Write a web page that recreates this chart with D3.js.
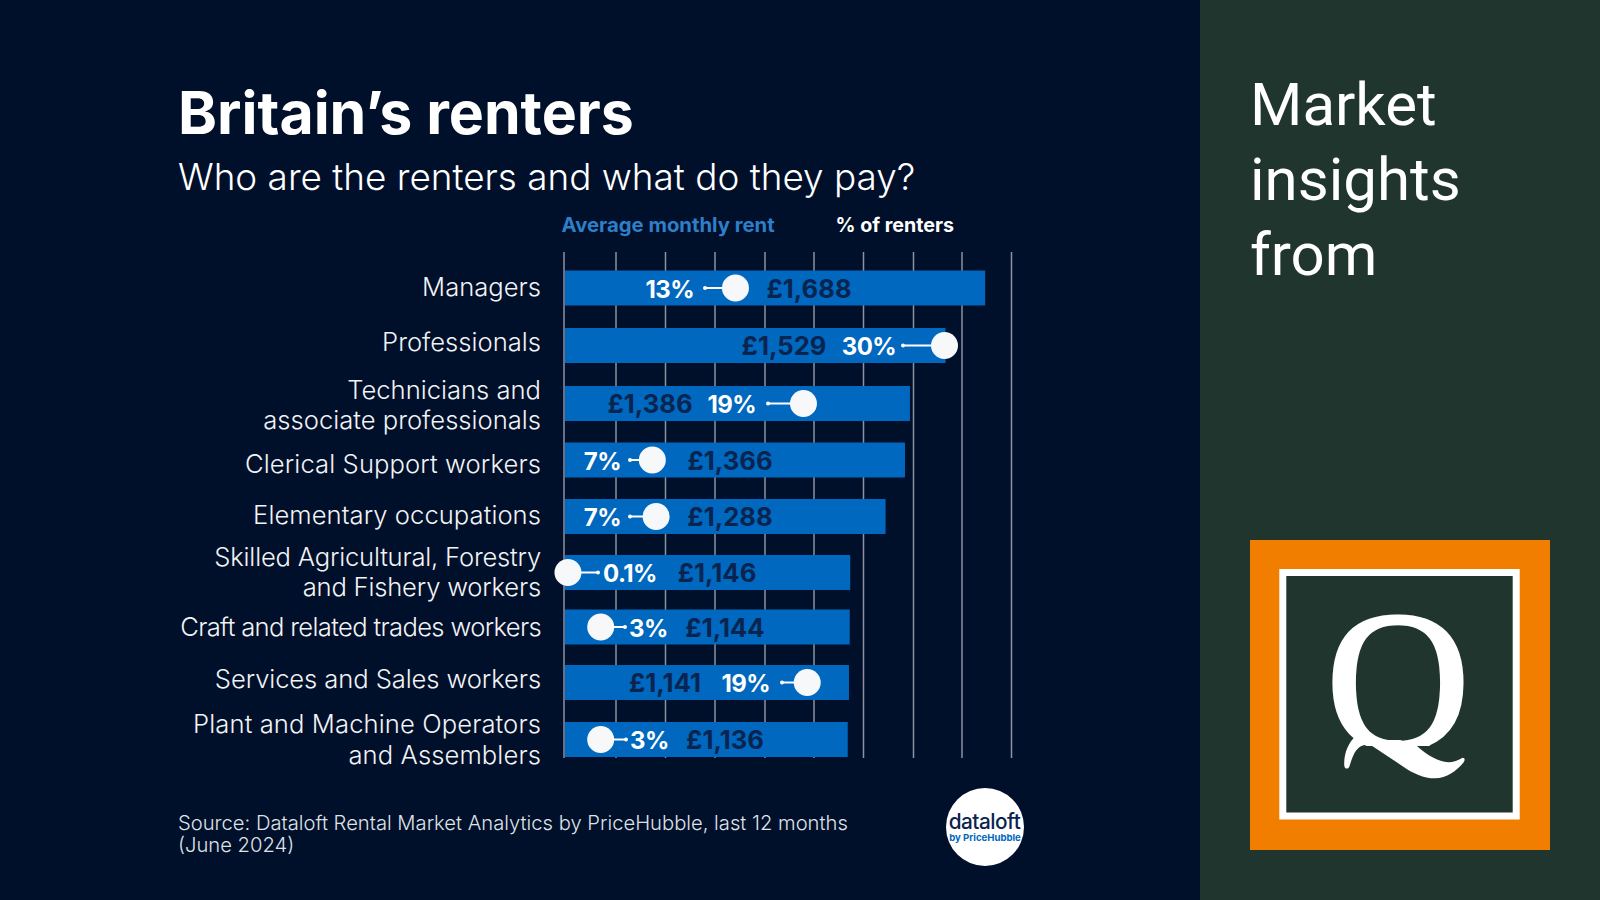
<!DOCTYPE html>
<html>
<head>
<meta charset="utf-8">
<script src="https://cdn.jsdelivr.net/npm/d3@7"></script>
<style>
  html, body { margin: 0; padding: 0; background: #000f2a; }
  svg { display: block; }
  text { font-family: Inter, sans-serif; }
</style>
</head>
<body>
<svg id="chart" width="1600" height="900"></svg>
<script>
// chart data
const categories = ['Managers', 'Professionals', 'Technicians and|associate professionals', 'Clerical Support workers',
  'Elementary occupations', 'Skilled Agricultural, Forestry|and Fishery workers', 'Craft and related trades workers',
  'Services and Sales workers', 'Plant and Machine Operators|and Assemblers'];
const rents = [1688, 1529, 1386, 1366, 1288, 1146, 1144, 1141, 1136];
const renterShare = [13.4, 30, 18.8, 6.8, 7.1, 0.1, 2.7, 19.1, 2.7];
const gridTicks = d3.range(0, 2000, 200);
const sourceLines = ['Source: Dataloft Rental Market Analytics by PriceHubble, last 12 months', '(June 2024)'];

// the rows and annotations were placed by hand in the original, so they are kept by hand here
const gridLines = [564, 616, 665.5, 715, 765, 814, 863.5, 913.5, 962, 1011.5];
const rowCentres = [288, 345.5, 403.5, 460, 516.5, 572.5, 627, 682.5, 739.5];
const labelBaselines = [295.5, 351, 398.5, 472.5, 523.5, 565.5, 636, 687.5, 733];
const labelTracking = [0, 0, 0, 0.1, 0.05, -0.2, -0.66, -0.1, 0.1];
const rentLabelCentres = [809, 784, 650, 730, 730, 717, 725, 665, 725];
const shareLabelEdges = [694, 896, 756, 621, 621, 603, 629, 770, 630];
const stemEnds = [705, 903, 768, 630, 630, 598, 625, 782, 626];

const x = d3.scaleLinear().domain([0, 1800]).range([565, 1013]);
const xGrid = d3.scaleLinear().domain(gridTicks).range(gridLines);
const xShare = d3.scaleLinear().domain([0, 30]).range([566.7, 944.5]);
const y = d3.scaleOrdinal().domain(categories).range(rowCentres);
const yLabel = d3.scaleOrdinal().domain(categories).range(labelBaselines);
const barHeight = 35;

const shareText = v => v < 1 ? d3.format('.1f')(v) + '%' : d3.format('.0f')(v) + '%';
const rows = categories.map((c, i) => ({
  cat: c, rent: rents[i], share: renterShare[i], tracking: labelTracking[i],
  rentX: rentLabelCentres[i], shareEdge: shareLabelEdges[i], stemEnd: stemEnds[i]
}));

const svg = d3.select('#chart');

// right hand panel
svg.append('rect').attr('x', 1200).attr('y', 0).attr('width', 400).attr('height', 900).attr('fill', '#20352e');
svg.append('g').selectAll('text').data(['Market', 'insights', 'from']).enter().append('text')
  .attr('x', 1250)
  .attr('y', (d, i) => 124.5 + i * 75)
  .attr('fill', '#fff')
  .style('font-family', 'Roboto')
  .style('font-size', '60px')
  .text(d => d);

// Q logo, the letter is cut off under the bowl and gets the swash tail of the logo instead
svg.append('rect').attr('x', 1250).attr('y', 540).attr('width', 300).attr('height', 310).attr('fill', '#f27e00');
svg.append('rect').attr('x', 1282.8).attr('y', 572.5).attr('width', 233.4).attr('height', 243.5)
  .attr('fill', '#20352e').attr('stroke', '#fff').attr('stroke-width', 7);
svg.append('clipPath').attr('id', 'qBowl')
  .append('rect').attr('x', 1300).attr('y', 600).attr('width', 200).attr('height', 146);
svg.append('text').attr('x', 1398).attr('y', 747.5)
  .attr('text-anchor', 'middle')
  .attr('clip-path', 'url(#qBowl)')
  .attr('fill', '#fff')
  .attr('stroke', '#fff')
  .attr('stroke-width', 3)
  .style('font-family', 'Liberation Serif')
  .style('font-size', '200px')
  .text('Q');
svg.append('path')
  .attr('transform', 'translate(1200,500) scale(0.3333)')
  .attr('fill', '#fff')
  .attr('d', 'M651 738C680 765 715 785 745 787C760 787 775 780 788 773C795 773 796 780 790 788C770 812 740 835 705 835C670 835 640 820 610 800L520 740C505 732 490 732 478 742C460 757 455 780 448 800C444 808 435 808 433 798C430 765 445 725 468 708C490 715 520 722 600 720Z');

// titles
svg.append('text').attr('x', 178).attr('y', 133.5)
  .attr('fill', '#fff')
  .style('font-size', '59px').style('font-weight', 700)
  .text('Britain’s renters');
svg.append('text').attr('x', 178).attr('y', 189.5)
  .attr('fill', '#fff')
  .style('font-size', '36.9px').style('font-weight', 300)
  .text('Who are the renters and what do they pay?');
svg.append('text').attr('x', 561.5).attr('y', 232)
  .attr('fill', '#2f7fc8')
  .style('font-size', '20.25px').style('font-weight', 700)
  .text('Average monthly rent');
svg.append('text').attr('x', 835.5).attr('y', 232)
  .attr('fill', '#fff')
  .style('font-size', '19.7px').style('font-weight', 700)
  .text('% of renters');

// grid lines
const grid = svg.append('g')
  .attr('transform', 'translate(0,252)')
  .call(d3.axisBottom(xGrid).tickValues(gridTicks).tickSize(506).tickFormat('').offset(0));
grid.select('.domain').remove();
grid.selectAll('line').attr('stroke', '#8b93a3').attr('stroke-width', 1.5);

// bars
svg.selectAll('rect.bar').data(rows).enter().append('rect')
  .attr('class', 'bar')
  .attr('x', x(0))
  .attr('y', d => y(d.cat) - barHeight / 2)
  .attr('width', d => x(d.rent) - x(0))
  .attr('height', barHeight)
  .attr('fill', '#0068be');

// category labels
svg.selectAll('text.cat').data(rows).enter().append('text')
  .attr('class', 'cat')
  .attr('text-anchor', 'end')
  .attr('fill', '#f2f3f5')
  .style('font-size', '25.6px').style('font-weight', 300)
  .style('letter-spacing', d => d.tracking + 'px')
  .attr('y', d => yLabel(d.cat))
  .selectAll('tspan').data(d => d.cat.split('|')).enter().append('tspan')
  .attr('x', 541)
  .attr('dy', (d, i) => i ? 30.5 : 0)
  .text(d => d);

// rent labels
svg.selectAll('text.rent').data(rows).enter().append('text')
  .attr('class', 'rent')
  .attr('x', d => d.rentX)
  .attr('y', d => y(d.cat) + 9.5)
  .attr('text-anchor', 'middle')
  .attr('fill', '#0a2450')
  .style('font-size', '25.6px').style('font-weight', 700)
  .text(d => '£' + d3.format(',')(d.rent));

// stems and dots for the share of renters
const dots = svg.selectAll('g.dot').data(rows).enter().append('g').attr('class', 'dot');
dots.append('line')
  .attr('x1', d => xShare(d.share))
  .attr('x2', d => d.stemEnd)
  .attr('y1', d => y(d.cat))
  .attr('y2', d => y(d.cat))
  .attr('stroke', '#fff')
  .attr('stroke-width', 2);
dots.append('circle')
  .attr('cx', d => d.stemEnd)
  .attr('cy', d => y(d.cat))
  .attr('r', 2)
  .attr('fill', '#fff');
dots.append('circle')
  .attr('cx', d => xShare(d.share))
  .attr('cy', d => y(d.cat))
  .attr('r', 13.5)
  .attr('fill', '#f7f8fa');
dots.append('text')
  .attr('x', d => d.shareEdge)
  .attr('y', d => y(d.cat) + 9.5)
  .attr('text-anchor', d => d.stemEnd > xShare(d.share) ? 'start' : 'end')
  .attr('fill', '#fff')
  .style('font-size', '24px').style('font-weight', 700).style('letter-spacing', '-0.6px')
  .text(d => shareText(d.share));

// source and badge
svg.append('text')
  .attr('y', 830)
  .attr('fill', '#dfe2e7')
  .style('font-size', '20.2px').style('font-weight', 300)
  .selectAll('tspan').data(sourceLines).enter().append('tspan')
  .attr('x', 178)
  .attr('dy', (d, i) => i ? 21.5 : 0)
  .text(d => d);
svg.append('circle').attr('cx', 985).attr('cy', 827).attr('r', 39).attr('fill', '#fff');
svg.append('text').attr('x', 984.5).attr('y', 828.5)
  .attr('text-anchor', 'middle')
  .attr('fill', '#0a2450')
  .style('font-size', '20.8px').style('font-weight', 500).style('letter-spacing', '-0.5px')
  .text('dataloft');
svg.append('text').attr('x', 985).attr('y', 840.5)
  .attr('text-anchor', 'middle')
  .attr('fill', '#0068be')
  .style('font-size', '9.6px').style('font-weight', 700)
  .text('by PriceHubble');
</script>
</body>
</html>
